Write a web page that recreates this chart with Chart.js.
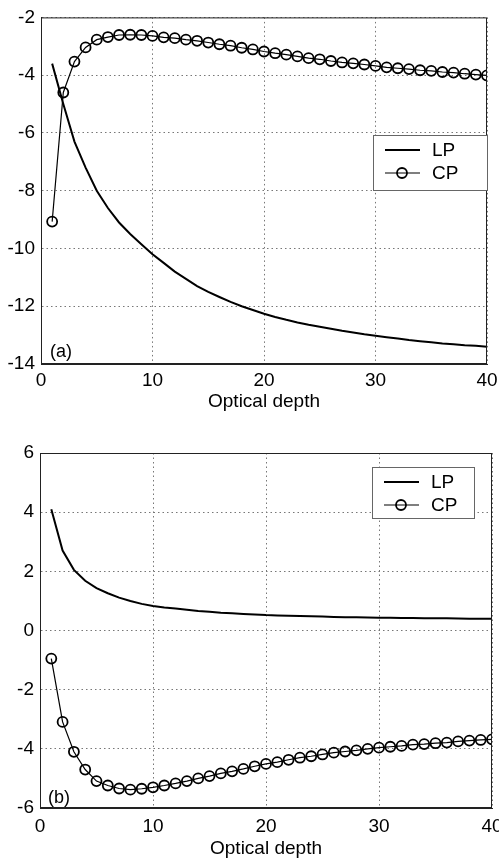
<!DOCTYPE html>
<html>
<head>
<meta charset="utf-8">
<script src="https://cdn.jsdelivr.net/npm/chart.js@4.4.1/dist/chart.umd.min.js"></script>
<style>
  html, body { margin: 0; padding: 0; background: #fff; overflow: hidden; width: 499px; height: 860px; }
  canvas { position: absolute; left: 0; }
  #chartA { top: 0; }
  #chartB { top: 430px; }
</style>
</head>
<body>
<canvas id="chartA" width="520" height="415"></canvas>
<canvas id="chartB" width="520" height="430"></canvas>
<script>
// optical depth samples
const depth = [1, 2, 3, 4, 5, 6, 7, 8, 9, 10, 11, 12, 13, 14, 15, 16, 17, 18, 19, 20,
               21, 22, 23, 24, 25, 26, 27, 28, 29, 30, 31, 32, 33, 34, 35, 36, 37, 38, 39, 40];

// panel (a)
const lpA = [-3.6, -5.0, -6.3, -7.2, -8.0, -8.6, -9.1, -9.5, -9.85, -10.2,
             -10.5, -10.8, -11.05, -11.3, -11.5, -11.68, -11.85, -12.0, -12.13, -12.26,
             -12.37, -12.47, -12.56, -12.64, -12.71, -12.78, -12.85, -12.91, -12.97, -13.02,
             -13.07, -13.12, -13.17, -13.21, -13.25, -13.29, -13.32, -13.35, -13.37, -13.4];
const cpA = [-9.07, -4.6, -3.53, -3.04, -2.77, -2.68, -2.61, -2.6, -2.61, -2.64,
             -2.69, -2.72, -2.77, -2.81, -2.87, -2.93, -2.98, -3.05, -3.11, -3.18,
             -3.24, -3.29, -3.35, -3.41, -3.45, -3.51, -3.56, -3.59, -3.63, -3.68,
             -3.73, -3.76, -3.79, -3.83, -3.85, -3.89, -3.91, -3.95, -3.98, -4.01];

// panel (b)
const lpB = [4.1, 2.7, 2.05, 1.68, 1.43, 1.26, 1.11, 1.0, 0.9, 0.83,
             0.78, 0.74, 0.7, 0.66, 0.63, 0.6, 0.58, 0.56, 0.54, 0.52,
             0.51, 0.5, 0.49, 0.48, 0.47, 0.46, 0.45, 0.445, 0.44, 0.435,
             0.43, 0.425, 0.42, 0.415, 0.41, 0.41, 0.405, 0.4, 0.4, 0.4];
const cpB = [-0.95, -3.09, -4.1, -4.7, -5.09, -5.24, -5.34, -5.38, -5.35, -5.3,
             -5.24, -5.17, -5.09, -5.0, -4.92, -4.83, -4.76, -4.68, -4.59, -4.51,
             -4.45, -4.37, -4.3, -4.25, -4.19, -4.13, -4.09, -4.05, -4.0, -3.96,
             -3.93, -3.9, -3.86, -3.84, -3.81, -3.79, -3.75, -3.72, -3.7, -3.68];

const seriesNames = ['LP', 'CP'];
const xTitle = 'Optical depth';

const FONT = '"Liberation Sans", Arial, sans-serif';

function points(ys) {
  return depth.map((d, i) => ({ x: d, y: ys[i] }));
}

// axes box, panel tag and the boxed legend inside the plot
const framePlugin = {
  id: 'frame',
  afterDraw(chart, args, opts) {
    const { ctx, chartArea: a } = chart;
    ctx.save();
    ctx.strokeStyle = '#222';
    ctx.lineWidth = 1;
    ctx.setLineDash([]);
    ctx.strokeRect(a.left + 0.5, a.top + 0.5, a.width - 1, a.height - 1);

    ctx.fillStyle = '#000';
    ctx.font = '18px ' + FONT;
    ctx.textBaseline = 'alphabetic';
    ctx.textAlign = 'left';
    ctx.fillText(opts.tag, a.left + opts.tagDx, a.bottom - opts.tagDy);

    const L = opts.legend;
    ctx.fillStyle = '#fff';
    ctx.fillRect(L.x, L.y, L.w, L.h);
    ctx.strokeStyle = '#666';
    ctx.strokeRect(L.x + 0.5, L.y + 0.5, L.w, L.h);

    chart.data.datasets.forEach((ds, i) => {
      const y = L.y + 15 + i * 23;
      ctx.strokeStyle = ds.borderColor;
      ctx.lineWidth = ds.borderWidth;
      ctx.beginPath();
      ctx.moveTo(L.x + 12, y);
      ctx.lineTo(L.x + 47, y);
      ctx.stroke();
      if (ds.pointRadius > 0) {
        ctx.lineWidth = ds.pointBorderWidth;
        ctx.beginPath();
        ctx.arc(L.x + 29, y, ds.pointRadius, 0, Math.PI * 2);
        ctx.stroke();
      }
      ctx.fillStyle = '#000';
      ctx.font = '19px ' + FONT;
      ctx.textBaseline = 'middle';
      ctx.fillText(ds.label, L.x + 59, y + 1);
    });
    ctx.restore();
  }
};

function makeChart(id, lp, cp, yMin, yMax, box) {
  return new Chart(document.getElementById(id), {
    type: 'line',
    data: {
      datasets: [
        {
          label: seriesNames[0],
          data: points(lp),
          borderColor: '#000',
          borderWidth: 2,
          pointRadius: 0,
          tension: 0
        },
        {
          label: seriesNames[1],
          data: points(cp),
          borderColor: '#000',
          borderWidth: 1.2,
          pointRadius: 5,
          pointBorderWidth: 1.8,
          pointBorderColor: '#000',
          pointBackgroundColor: 'rgba(0,0,0,0)',
          tension: 0
        }
      ]
    },
    options: {
      responsive: false,
      animation: false,
      layout: { padding: box.padding },
      plugins: {
        legend: { display: false },
        tooltip: { enabled: false },
        frame: box.frame
      },
      scales: {
        x: {
          type: 'linear',
          min: 0,
          max: 40,
          afterFit: s => { s.height = box.xHeight; },
          ticks: { stepSize: 10, padding: box.tickPad, color: '#000', font: { family: FONT, size: 19 } },
          grid: { color: '#777', lineWidth: 1, drawTicks: false },
          border: { display: true, color: '#222', dash: [1.5, 3] },
          title: { display: true, text: xTitle, color: '#000', font: { family: FONT, size: 19 }, padding: { top: 0, bottom: box.titlePad } }
        },
        y: {
          min: yMin,
          max: yMax,
          afterFit: s => { s.width = box.yWidth; },
          ticks: { stepSize: 2, padding: 6, color: '#000', font: { family: FONT, size: 19 } },
          grid: { color: '#777', lineWidth: 1, drawTicks: false },
          border: { display: true, color: '#222', dash: [1.5, 3] }
        }
      }
    },
    plugins: [framePlugin]
  });
}

makeChart('chartA', lpA, cpA, -14, -2, {
  padding: { top: 14, right: 33, bottom: 0, left: 0 },
  xHeight: 51,
  yWidth: 41,
  tickPad: 5,
  titlePad: 2,
  frame: { tag: '(a)', tagDx: 9, tagDy: 7, legend: { x: 373, y: 135, w: 114, h: 55 } }
});

makeChart('chartB', lpB, cpB, -6, 6, {
  padding: { top: 23, right: 28, bottom: 0, left: 0 },
  xHeight: 52,
  yWidth: 40,
  tickPad: 7,
  titlePad: 0,
  frame: { tag: '(b)', tagDx: 8, tagDy: 5, legend: { x: 372, y: 37, w: 102, h: 51 } }
});
</script>
</body>
</html>
